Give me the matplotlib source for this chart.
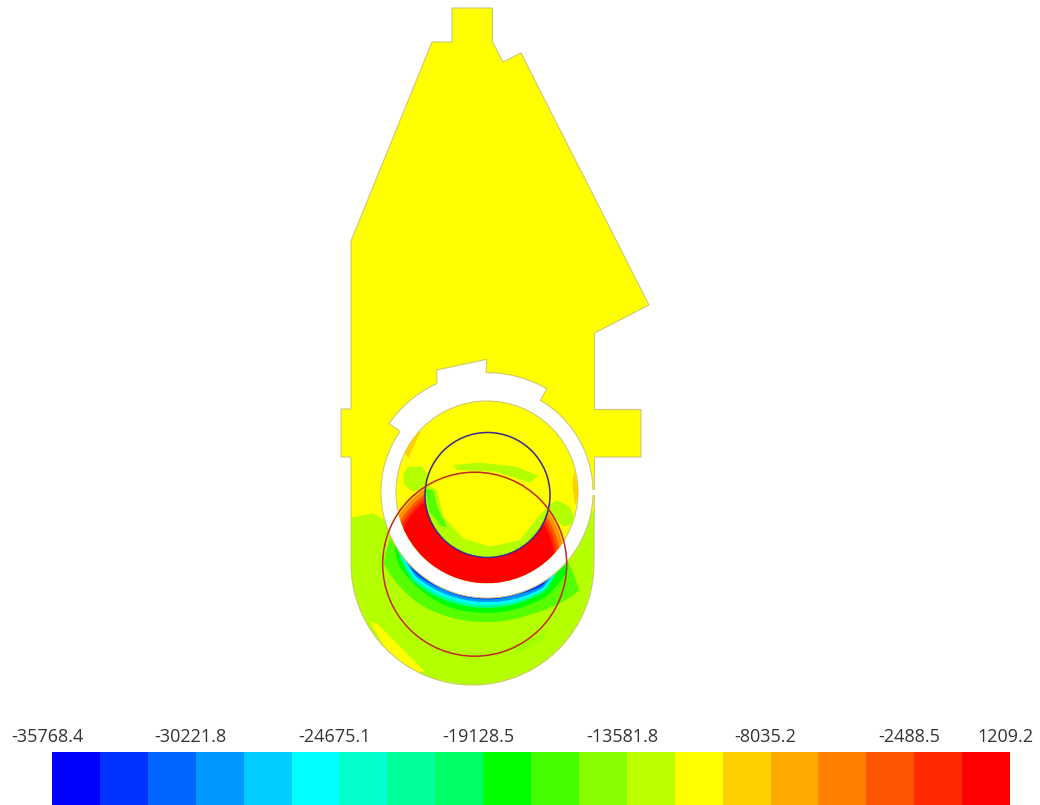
import numpy as np
import matplotlib
matplotlib.use("Agg")
import matplotlib.pyplot as plt
from matplotlib.patches import Polygon, Circle
from matplotlib.colors import ListedColormap, BoundaryNorm
from matplotlib.transforms import ScaledTranslation

plt.rcParams['font.family'] = ['Open Sans', 'DejaVu Sans']

# colour scale
level_ticks = [-35768.4, -30221.8, -24675.1, -19128.5, -13581.8, -8035.2, -2488.5, 1209.2]
tick_labels = ['-35768.4', '-30221.8', '-24675.1', '-19128.5', '-13581.8', '-8035.2', '-2488.5', '1209.2']
tick_bins = [0, 3, 6, 9, 12, 15, 18, 20]
level_colors = ['#0000ff', '#0033ff', '#0066ff', '#0099ff', '#00ccff', '#00ffff', '#00ffcc',
                '#00ff99', '#00ff66', '#00ff00', '#44ff00', '#88ff00', '#bbff00', '#ffff00',
                '#ffd000', '#ffa800', '#ff8000', '#ff5500', '#ff2a00', '#ff0000']
level_edges = np.interp(np.arange(21), tick_bins, level_ticks)

# geometry (pixels)
ring_c = (487, 492)
disc_r, ring_r = 91, 106
U_c = (472.5, 563.5)
U_r = 121.5
purple = (487.5, 495, 62.5)
red = (474.7, 564.2, 92)

outline_top = [(594.5, 457), (641, 457), (641, 409.5), (594.5, 409.5), (594.5, 333), (649, 305),
               (521, 53), (503, 62), (492.5, 42), (492.5, 8), (452, 8), (452, 42), (432, 42),
               (351, 241), (351, 409), (341, 409), (341, 457), (351, 457)]

# (angle from straight down in degrees, outer radius) for the bands under the ring
bands = [
    ('#55ff00', [-66, -55, -30, 0, 20, 43, 50], [104, 126, 131, 130, 130, 135, 104]),
    ('#00ff00', [-63, -50, -20, 0, 30, 45, 48], [104, 115, 121, 121, 120, 113, 104]),
    ('#00ff99', [-61, -40, 0, 30, 44], [104, 116, 116, 115, 104]),
    ('#00ffff', [-59, -40, 0, 30, 43], [104, 113, 113, 113, 104]),
    ('#0099ff', [-56, -40, 0, 30, 41], [104, 110.5, 110, 111, 104]),
    ('#0033ff', [-52, -42, -25, 0, 18, 30, 39], [104, 108.5, 107, 107.5, 107, 109, 104]),
]
red_stack = [('#ffd000', 93), ('#ff9000', 90), ('#ff5500', 86), ('#ff2a00', 83), ('#ff0000', 80)]


def z(pts):
    """crop coordinates of the reading -> picture pixels"""
    return [(330 + x / 3, 350 + y / 3) for x, y in pts]


def arc(c, r, a0, a1, n=120):
    t = np.radians(np.linspace(a0, a1, n))
    return list(zip(c[0] + r * np.cos(t), c[1] + r * np.sin(t)))


fig = plt.figure(figsize=(10.4, 8.05), dpi=100)
ax = fig.add_axes([0, 0, 1, 1])
ax.set_xlim(0, 1040)
ax.set_ylim(805, 0)
ax.axis('off')

domain_pts = outline_top + arc(U_c, U_r, 180, 0) + [(594.5, 457)]
domain = Polygon(domain_pts, closed=True, fc='#ffff00', ec='none', zorder=1)
ax.add_patch(domain)


def add_dom(p, zo):
    p.set_zorder(zo)
    ax.add_patch(p)
    p.set_clip_path(domain)
    return p


# lower body
add_dom(Polygon(z([(50, 505), (130, 490), (165, 510), (400, 640), (600, 640), (740, 540),
                   (800, 470), (820, 1100), (40, 1100)]), fc='#b4ff00', ec='none'), 2)
add_dom(Polygon(z([(120, 815), (140, 820), (200, 880), (285, 965), (240, 968), (165, 895)]),
                fc='#ffff00', ec='none'), 3)
add_dom(Polygon(z([(548, 895), (640, 850), (650, 862), (565, 908)]), fc='#a0ff00', ec='none'), 3)

# bands under the ring
for i, (col, ang, rad) in enumerate(bands):
    th = np.linspace(ang[0], ang[-1], 120)
    rr = np.interp(th, ang, rad)
    t = np.radians(th)
    pts = np.column_stack([ring_c[0] + rr * np.sin(t), ring_c[1] + rr * np.cos(t)])
    add_dom(Polygon(pts, fc=col, ec='none'), 4 + i * 0.1)

# white ring with its tabs
ring_tabs = z([(178, 222)]) + arc(ring_c, 119.5, 214.8, 245.2, 20) + z([(320, 60), (470, 28)]) \
    + arc(ring_c, 119.3, 269.6, 300, 20) + z([(632, 150)]) + arc(ring_c, ring_r, -59.7, 214.5, 200) + z([(205, 240)])
ax.add_patch(Polygon(ring_tabs, closed=True, fc='white', ec='#cfc878', lw=0.8, zorder=6))
ax.add_patch(Polygon([(590, 490), (598, 490), (598, 495), (590, 495)], fc='white', ec='none', zorder=11))

# inner disc
disc = Circle(ring_c, disc_r, fc='#ffff00', ec='#cfc878', lw=0.8, zorder=7)
ax.add_patch(disc)


def add_disc(p, zo):
    p.set_zorder(zo)
    ax.add_patch(p)
    p.set_clip_path(disc)
    return p


YG = '#b4ff00'
add_disc(Polygon(z([(235, 325), (272, 245), (255, 250), (222, 305)]), fc='#ffd000', ec='none'), 7.1)
add_disc(Polygon(z([(733, 365), (750, 430), (735, 465), (727, 400)]), fc='#ffd000', ec='none'), 7.1)
add_disc(Polygon(z([(220, 372), (235, 350), (275, 350), (300, 380), (290, 410), (250, 425), (222, 405)]),
                 fc=YG, ec='none'), 7.2)
add_disc(Polygon(z([(650, 470), (680, 450), (720, 470), (738, 520), (700, 530), (660, 490)]),
                 fc=YG, ec='none'), 7.2)
for k, (col, r) in enumerate(red_stack):
    add_disc(Circle(red[:2], r, fc=col, ec='none'), 7.3 + k * 0.01)

inner = Circle(purple[:2], purple[2], fc=YG, ec='none', zorder=8)
ax.add_patch(inner)
for pts, col, zo in [
    (z([(285, 400), (320, 420), (340, 500), (400, 565), (480, 590), (570, 570), (625, 500), (660, 465),
        (665, 240), (280, 240)]), '#ffff00', 8.2),
    (z([(285, 418), (310, 420), (322, 470), (352, 532), (335, 530), (298, 485)]), '#55ff00', 8.1),
]:
    p = Polygon(pts, fc=col, ec='none', zorder=zo)
    ax.add_patch(p)
    p.set_clip_path(inner)
add_disc(Polygon(z([(370, 345), (450, 338), (560, 350), (625, 378), (600, 398), (500, 365), (380, 360)]),
                 fc=YG, ec='none'), 8.3)

# reference circles
ax.add_patch(Circle(purple[:2], purple[2], fc='none', ec='#3a2a90', lw=1.1, zorder=9))
ax.add_patch(Circle(red[:2], red[2], fc='none', ec='#c02a20', lw=1.1, zorder=9))

# outline
ax.add_patch(Polygon(domain_pts, closed=True, fc='none', ec='#cfc878', lw=0.8, zorder=10))

# colour bar
cax = fig.add_axes([52 / 1040, 0, 958 / 1040, 53 / 805])
cmap = ListedColormap(level_colors)
norm = BoundaryNorm(level_edges, cmap.N)
cax.pcolormesh(level_edges, [0, 1], np.array([(level_edges[:-1] + level_edges[1:]) / 2]),
               cmap=cmap, norm=norm)
cax.set_yticks([])
cax.set_xlim(level_edges[0], level_edges[-1])
cax.xaxis.tick_top()
cax.set_xticks(level_ticks)
cax.set_xticklabels(tick_labels, fontsize=13, color='#333333')
cax.tick_params(axis='x', length=0, pad=4)
for s in cax.spines.values():
    s.set_visible(False)
for lab in cax.get_xticklabels():
    lab.set_transform(lab.get_transform() + ScaledTranslation(-5 / 100, 0, fig.dpi_scale_trans))

fig.savefig('out.png', dpi=100)
